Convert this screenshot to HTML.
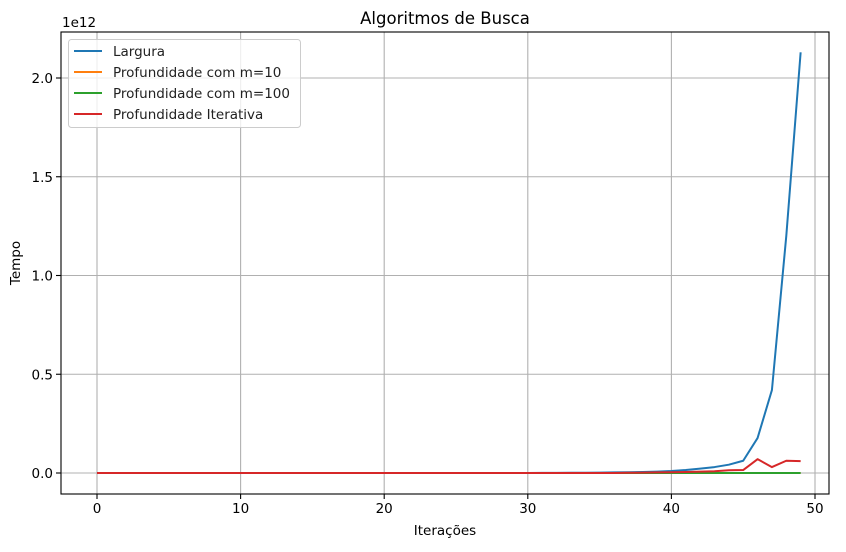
<!DOCTYPE html>
<html><head><meta charset="utf-8"><style>
body{margin:0;background:#fff;}
svg{font-family:"DejaVu Sans","Liberation Sans",sans-serif;}
</style></head><body>
<svg id="chart" width="846" height="547" viewBox="0 0 846 547">
<rect width="846" height="547" fill="#fff"/>
<g id="grid"></g><g id="series"></g><g id="axes"></g>
</svg>
<script>
const iterations = Array.from({length:50},(_,i)=>i);
const largura = [0,0,0,0,0,0,0,0,0,0,0,0,0,0,0,0,0,0,0,0,0,0,0,0,0,0,0,0,0,0,0,0.0005,0.0007,0.001,0.0015,0.002,0.003,0.004,0.005,0.007,0.01,0.015,0.022,0.03,0.042,0.062,0.177,0.42,1.2,2.13];
const prof10 = new Array(50).fill(0);
const prof100 = new Array(50).fill(0);
const iterativa = [0,0,0,0,0,0,0,0,0,0,0,0,0,0,0,0,0,0,0,0,0,0,0,0,0,0,0,0,0,0,0,0,0,0,0,0,0,0.001,0.002,0.003,0.004,0.005,0.007,0.009,0.014,0.015,0.07,0.03,0.062,0.06];
const xTicks = [0,10,20,30,40,50];
const yTicks = [0,0.5,1.0,1.5,2.0];
const yTickLabels = ["0.0","0.5","1.0","1.5","2.0"];
const seriesNames = ["Largura","Profundidade com m=10","Profundidade com m=100","Profundidade Iterativa"];
const colors = ["#1f77b4","#ff7f0e","#2ca02c","#d62728"];

const L=61,R=829,T=32,B=494;
const xs=v=>97+v*14.36;
const ys=v=>473-v*197.5;
const NS="http://www.w3.org/2000/svg";
const grid=document.getElementById('grid'),ser=document.getElementById('series'),ax=document.getElementById('axes');
function mk(tag,attrs,parent){const e=document.createElementNS(NS,tag);for(const k in attrs)e.setAttribute(k,attrs[k]);parent.appendChild(e);return e;}

xTicks.forEach(t=>{
  const x=xs(t);
  const g=mk('line',{x1:x,x2:x,y1:T,y2:B,stroke:'#b0b0b0','stroke-width':1.1},grid);
  
  
  mk('line',{x1:x,x2:x,y1:B,y2:B+5,stroke:'#000','stroke-width':1.1},ax);
  const tx=mk('text',{x:x,y:B+19,'text-anchor':'middle','font-size':13.5,fill:'#000'},ax);
  tx.textContent=t;
  
  
});
yTicks.forEach((t,i)=>{
  const y=ys(t);
  const g=mk('line',{x1:L,x2:R,y1:y,y2:y,stroke:'#b0b0b0','stroke-width':1.1},grid);
  
  
  mk('line',{x1:L-5,x2:L,y1:y,y2:y,stroke:'#000','stroke-width':1.1},ax);
  const tx=mk('text',{x:L-8,y:y+5,'text-anchor':'end','font-size':13.5,fill:'#000'},ax);
  tx.textContent=yTickLabels[i];
  
  
});
const frame=mk('rect',{x:L,y:T,width:R-L,height:B-T,fill:'none',stroke:'#000','stroke-width':1.1},ax);



[largura,prof10,prof100,iterativa].forEach((d,si)=>{
  const pts=d.map((v,i)=>xs(iterations[i]).toFixed(2)+','+ys(v).toFixed(2)).join(' ');
  const p=mk('polyline',{points:pts,fill:'none',stroke:colors[si],'stroke-width':2,'stroke-linejoin':'round'},ser);
  
  
});

function txt(s,attrs,name){const e=mk('text',attrs,ax);e.textContent=s;return e;}
txt('Algoritmos de Busca',{x:445,y:24,'text-anchor':'middle','font-size':16.5},'chart-title');
txt('Iterações',{x:445,y:535,'text-anchor':'middle','font-size':13.5},'x-axis-title');
txt('Tempo',{x:20,y:263,'text-anchor':'middle','font-size':13.5,transform:'rotate(-90 20 263)'},'y-axis-title');
txt('1e12',{x:62,y:27,'font-size':13.5},'y-offset-label');

const lg=mk('g',{},ax);


mk('rect',{x:68.5,y:39.5,width:232,height:88,rx:3,fill:'#fff','fill-opacity':0.8,stroke:'#ccc'},lg);
seriesNames.forEach((n,i)=>{
  const y=51+i*21;
  const e=mk('g',{},lg);
  
  
  mk('line',{x1:74,x2:102,y1:y,y2:y,stroke:colors[i],'stroke-width':2},e);
  const t=mk('text',{x:113,y:y+5,'font-size':13.5,fill:'#222'},e);
  t.textContent=n;
});
</script>
</body></html>
